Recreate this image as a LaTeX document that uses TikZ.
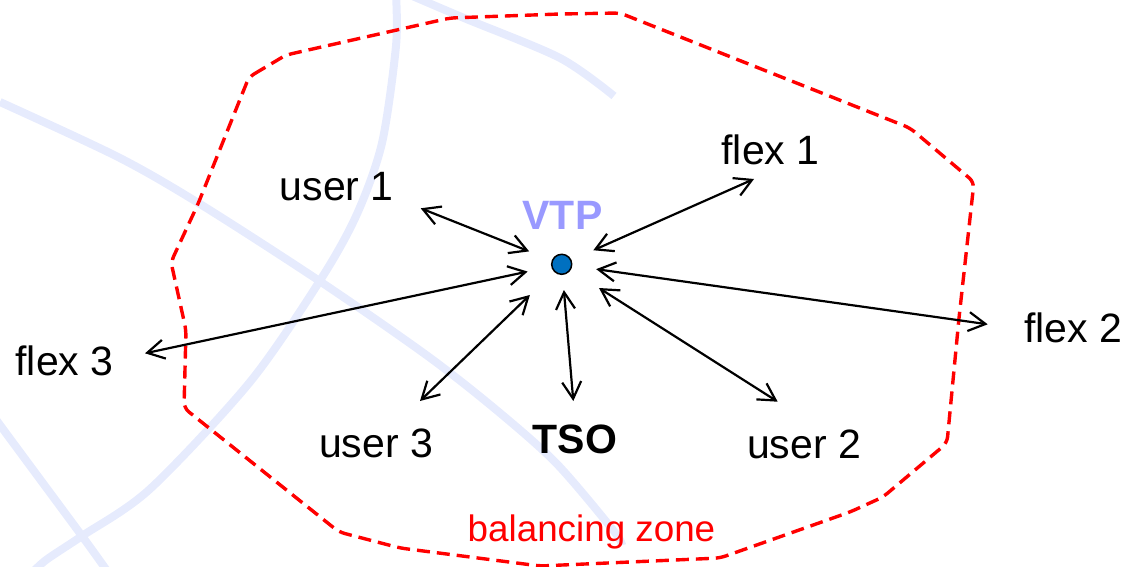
\documentclass[tikz,border=0pt]{standalone}
\usepackage{fontspec}
\setmainfont{Liberation Sans}
\usetikzlibrary{arrows.meta}
\definecolor{arcblue}{HTML}{E6EBFD}
\definecolor{vtpcol}{HTML}{9999FF}
\definecolor{dotblue}{HTML}{0070C0}
\tikzset{
  lbl/.style={anchor=base, inner sep=0pt, font=\fontsize{20.5}{24}\selectfont},
  biarrow/.style={line width=1.1pt, {Straight Barb[length=8.5pt,width=9.5pt]}-{Straight Barb[length=8.5pt,width=9.5pt]}},
  zone/.style={red, line width=1.7pt, dash pattern=on 6.5pt off 3.5pt, rounded corners=3pt},
  bgarc/.style={arcblue, line width=4pt}
}
\begin{document}
\begin{tikzpicture}[x=0.5pt,y=-0.5pt]
\useasboundingbox (0,0) rectangle (1126,567);
\begin{scope}
\clip (0,0) rectangle (1126,567);
\draw[bgarc] plot[smooth] coordinates {(0,102) (118,157) (200,204) (321,282) (429,357) (500,413) (557,464) (613,530) (622,545)};
\draw[bgarc] plot[smooth] coordinates {(396,-5) (396,46) (382,143) (357,214) (321,279) (250,382) (150,489) (82,536) (46,560) (30,575)};
\draw[bgarc] plot[smooth] coordinates {(-10,410) (0,425) (82,536) (110,575)};
\draw[bgarc] plot[smooth] coordinates {(410,-5) (464,18) (560,58) (614,96)};
\end{scope}
\draw[zone] (249,77) -- (286,55) -- (450,18) -- (560,14) -- (620,13) -- (910,128) -- (974,182) -- (959,318) -- (947,443) -- (883,497) -- (850,512) -- (720,558) -- (540,566) -- (400,548) -- (339,532) -- (184,408) -- (186,330) -- (171,262) -- (198,204) -- cycle;
\node[circle, fill=dotblue, draw=black, line width=0.75pt, minimum size=10pt, inner sep=0pt] (dot) at (561.7,264.3) {};
\node[lbl, font=\fontsize{20.5}{24}\selectfont\bfseries, text=vtpcol] (vtp) at (562.5,230) {VTP};
\node[lbl] (u1) at (336.7,200) {user 1};
\node[lbl] (f1) at (770.5,165) {flex 1};
\node[lbl] (f2) at (1073,343) {flex 2};
\node[lbl] (f3) at (64.5,375) {flex 3};
\node[lbl] (u3) at (376,457) {user 3};
\node[lbl, font=\fontsize{20.5}{24}\selectfont\bfseries] (tso) at (575,453) {TSO};
\node[lbl] (u2) at (804,458) {user 2};
\node[lbl, red, font=\fontsize{18.4}{22}\selectfont] (bz) at (591.5,541.7) {balancing zone};
\coordinate (u1t) at (420.7,208.3);
\coordinate (f1t) at (754,179);
\coordinate (f2t) at (987.7,324.3);
\coordinate (f3t) at (145,353.3);
\coordinate (u3t) at (420,401);
\coordinate (tsot) at (573.3,401);
\coordinate (u2t) at (777.7,401.7);
\draw[biarrow, shorten <=17.5pt] (dot.center) -- (u1t);
\draw[biarrow, shorten <=17.3pt] (dot.center) -- (f1t);
\draw[biarrow, shorten <=17.4pt] (dot.center) -- (f2t);
\draw[biarrow, shorten <=17.4pt] (dot.center) -- (f3t);
\draw[biarrow, shorten <=22.1pt] (dot.center) -- (u3t);
\draw[biarrow, shorten <=12.9pt] (dot.center) -- (tsot);
\draw[biarrow, shorten <=22.1pt] (dot.center) -- (u2t);
\end{tikzpicture}
\end{document}
